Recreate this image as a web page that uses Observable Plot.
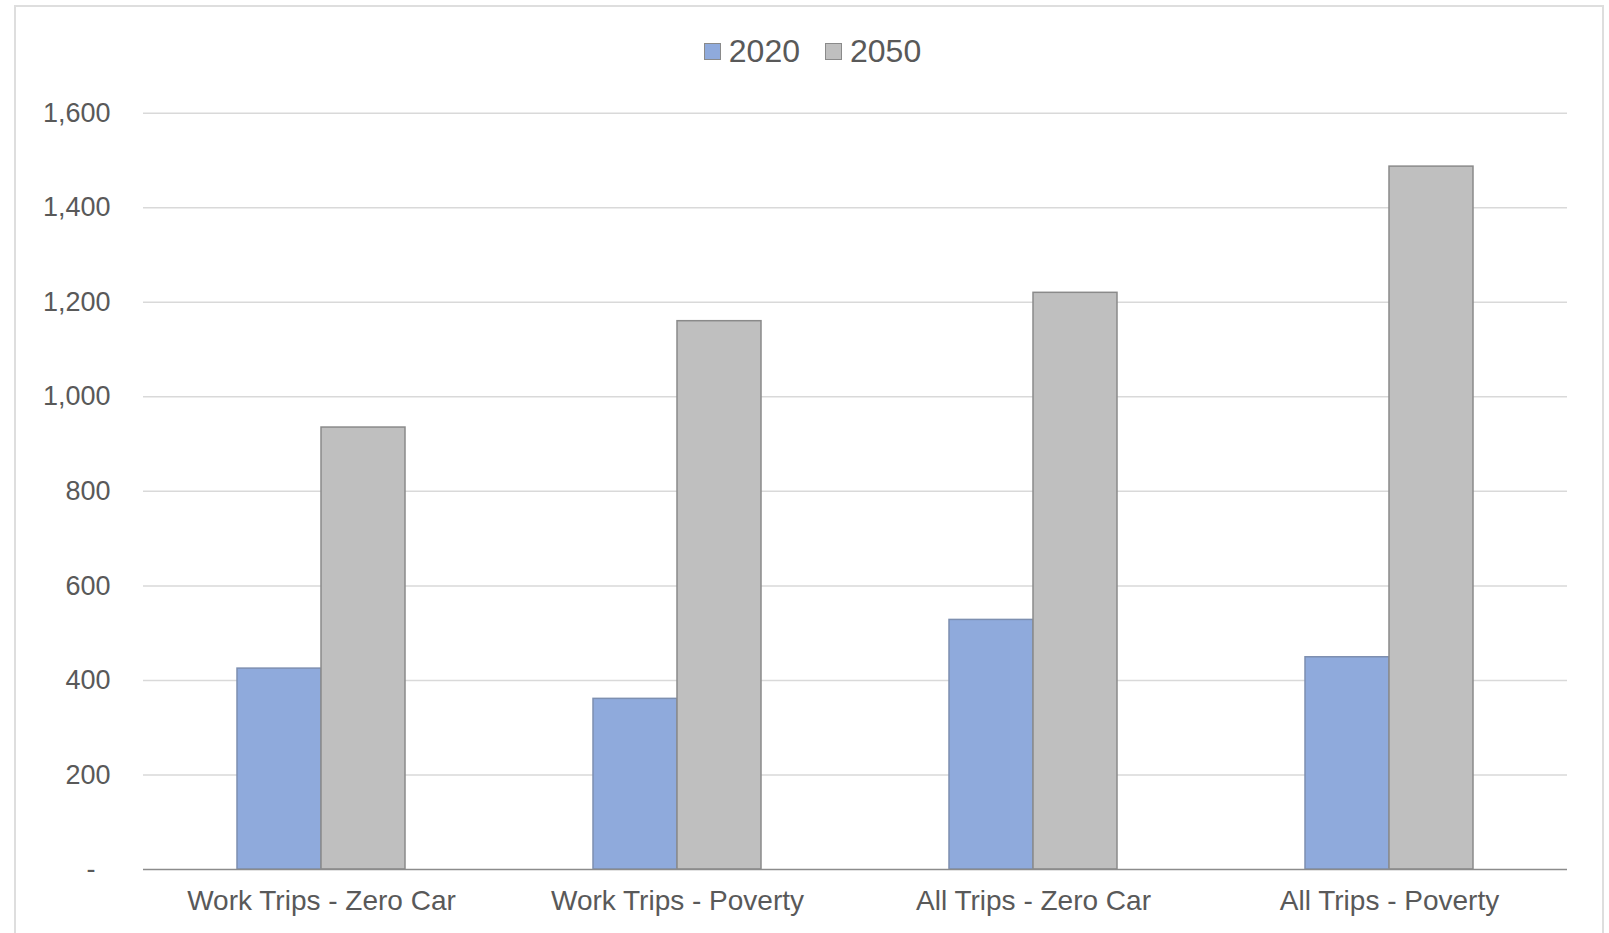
<!DOCTYPE html>
<html>
<head>
<meta charset="utf-8">
<script src="https://cdn.jsdelivr.net/npm/d3@7"></script>
<script src="https://cdn.jsdelivr.net/npm/@observablehq/plot@0.6"></script>
<style>
  html, body { margin: 0; padding: 0; background: #fff; }
  body { width: 1609px; height: 933px; overflow: hidden; position: relative; font-family: "Liberation Sans", Arial, sans-serif; }
  #frame { position: absolute; left: 14px; top: 5px; width: 1586px; height: 1000px; border: 2px solid #dedede; pointer-events: none; }
  #legend { height: 80px; box-sizing: border-box; padding-top: 22px; display: flex; justify-content: center; align-items: center; margin-left: 16px; color: #595959; font-size: 32px; }
  .item { display: flex; align-items: center; }
  .item + .item { margin-left: 25px; }
  .sw { width: 15px; height: 15px; border: 1.5px solid #8a8a8a; margin-right: 8px; }
  #chart { position: relative; }
</style>
</head>
<body>
<div id="frame"></div>
<div id="legend"></div>
<div id="chart"></div>
<script>
const categories = ["Work Trips - Zero Car", "Work Trips - Poverty", "All Trips - Zero Car", "All Trips - Poverty"];
const years = ["2020", "2050"];
const values2020 = [425, 361, 528, 449];
const values2050 = [935, 1160, 1220, 1487];
const yTicks = [0, 200, 400, 600, 800, 1000, 1200, 1400, 1600];
const colors = ["#8FAADC", "#BFBFBF"];
const strokes = ["#7D8FB0", "#8A8A8A"];

const data = [];
categories.forEach((c, i) => {
  data.push({category: c, year: years[0], value: values2020[i]});
  data.push({category: c, year: years[1], value: values2050[i]});
});

// legend
const legend = document.getElementById("legend");
years.forEach((y, i) => {
  const it = document.createElement("div");
  it.className = "item";
  const sw = document.createElement("span");
  sw.className = "sw";
  sw.style.background = colors[i];
  const t = document.createElement("span");
  t.textContent = y;
  it.appendChild(sw); it.appendChild(t);
  legend.appendChild(it);
});

const fmt = d3.format(",");
const chart = Plot.plot({
  width: 1609,
  height: 853,
  marginTop: 32.7,
  marginBottom: 64,
  marginLeft: 141,
  marginRight: 41,
  style: {fontFamily: "'Liberation Sans', Arial, sans-serif", fontSize: "27px", color: "#595959", background: "transparent"},
  fx: {domain: categories, padding: 0, label: null},
  x: {domain: years, paddingInner: 0, paddingOuter: 1.1, axis: null},
  y: {domain: [0, 1600], label: null, axis: null},
  color: {domain: years, range: colors},
  marks: [
    Plot.ruleY(yTicks.filter(d => d > 0), {stroke: "#d9d9d9", strokeWidth: 1.5, strokeOpacity: 1}),
    Plot.barY(data, {fx: "category", x: "year", y: "value", fill: "year", stroke: d => strokes[years.indexOf(d.year)], strokeWidth: 1.5, inset: 0}),
    Plot.ruleY([0], {stroke: "#8c8c8c", strokeWidth: 1.5}),
    Plot.axisY({ticks: yTicks, tickSize: 0, tickPadding: 33, fontSize: 27, tickFormat: d => d === 0 ? "-\u00a0\u00a0" : fmt(d), facetAnchor: "left"}),
    Plot.axisFx({anchor: "bottom", tickSize: 0, tickPadding: 21, fontSize: 28, label: null})
  ]
});
document.getElementById("chart").appendChild(chart);
</script>
</body>
</html>
